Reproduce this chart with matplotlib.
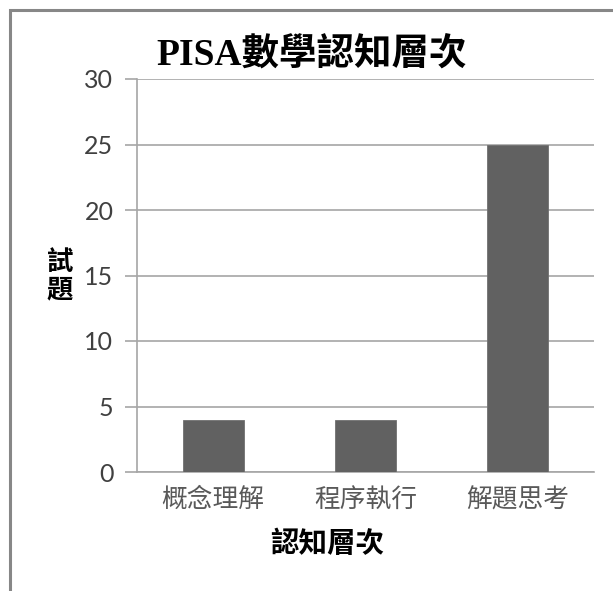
import matplotlib
matplotlib.use('Agg')
import matplotlib.pyplot as plt
from matplotlib.patches import Rectangle

# data
categories = ['概念理解', '程序執行', '解題思考']
counts = [4, 4, 25]
y_ticks = [0, 5, 10, 15, 20, 25, 30]

W, H = 613, 591
plt.rcParams['font.family'] = ['Noto Sans CJK TC', 'DejaVu Sans']

fig = plt.figure(figsize=(W / 100, H / 100), dpi=100)

def fx(px):
    return px / W

def fy(py):
    return 1 - py / H

# outer chart frame (only left/top visible, rest cut off)
fig.patches.append(Rectangle((fx(9.5), -0.1), 1.2, fy(9.5) + 0.1,
                             transform=fig.transFigure, fill=False,
                             edgecolor='#878787', linewidth=2.2))

# plot area: x 137..594, y 79..472
ax = fig.add_axes([fx(137), fy(472), fx(594) - fx(137), fy(79) - fy(472)])
x = range(len(categories))
ax.bar(x, counts, width=0.4, color='#616161', edgecolor='#707070',
       linewidth=0.6, zorder=3)

ax.set_xlim(-0.5, len(categories) - 0.5)
ax.set_ylim(0, 30)
ax.set_yticks(y_ticks)
ax.set_yticklabels([str(t) for t in y_ticks], family='Lato',
                   fontsize=18, color='#404040')
ax.set_xticks(list(x))
ax.set_xticklabels(categories, fontsize=18.5, color='#595959')

ax.grid(True, axis='y', color='#a6a6a6', linewidth=1.2, zorder=0)
for s in ['top', 'right']:
    ax.spines[s].set_visible(False)
for s in ['left', 'bottom']:
    ax.spines[s].set_color('#a6a6a6')
    ax.spines[s].set_linewidth(1.2)
ax.tick_params(axis='y', length=9, width=1.2, color='#a6a6a6', pad=8)
ax.tick_params(axis='x', length=0, pad=11)

# titles
fig.text(fx(312), fy(56), 'PISA數學認知層次',
         family=['Liberation Serif', 'Noto Sans CJK TC'],
         fontsize=27, fontweight='bold', ha='center', va='center')
fig.text(fx(327), fy(544), '認知層次', fontsize=20.5, fontweight='bold',
         ha='center', va='center')
fig.text(fx(60), fy(276), '試\n題', fontsize=19, fontweight='bold',
         ha='center', va='center', linespacing=1.0)

fig.savefig('out.png', dpi=100, facecolor='white')
plt.close()
